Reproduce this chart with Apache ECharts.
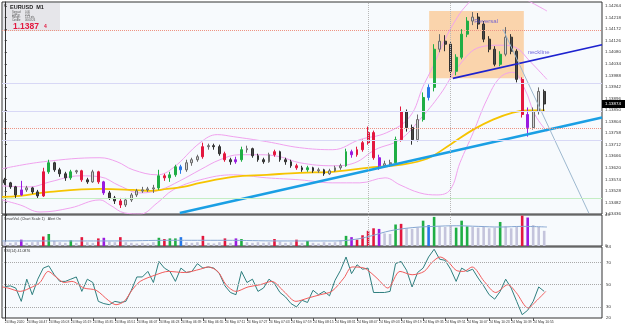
<!DOCTYPE html>
<html>
<head>
<meta charset="utf-8">
<title>EURUSD M1</title>
<script src="https://cdn.jsdelivr.net/npm/echarts@6.0.0/dist/echarts.min.js"></script>
<style>
  html, body { margin: 0; padding: 0; background: #fff; }
  #chart { width: 625px; height: 330px; }
</style>
</head>
<body>
<div id="chart"></div>
<script>
// EURUSD M1 bars
const opens = [
  1.13572, 1.13560, 1.13544, 1.13512, 1.13532, 1.13540, 1.13524, 1.13508, 1.13604, 1.13640,
  1.13612, 1.13596, 1.13580, 1.13604, 1.13608, 1.13572, 1.13564, 1.13604, 1.13564, 1.13520,
  1.13500, 1.13488, 1.13472, 1.13492, 1.13512, 1.13528, 1.13532, 1.13536, 1.13540, 1.13588,
  1.13580, 1.13592, 1.13624, 1.13612, 1.13640, 1.13652, 1.13664, 1.13704, 1.13708, 1.13704,
  1.13676, 1.13652, 1.13644, 1.13652, 1.13692, 1.13696, 1.13668, 1.13652, 1.13644, 1.13672,
  1.13684, 1.13652, 1.13644, 1.13628, 1.13620, 1.13612, 1.13620, 1.13608, 1.13612, 1.13596,
  1.13608, 1.13620, 1.13628, 1.13684, 1.13672, 1.13692, 1.13720, 1.13760, 1.13660, 1.13628,
  1.13636, 1.13640, 1.13732, 1.13844, 1.13780, 1.13732, 1.13812, 1.13900, 1.13940, 1.14092,
  1.14124, 1.14112, 1.14004, 1.14060, 1.14152, 1.14204, 1.14220, 1.14192, 1.14132, 1.14092,
  1.14032, 1.14072, 1.14140, 1.14084, 1.13972, 1.13832, 1.13780, 1.13844, 1.13924
];
const closes = [
  1.13560, 1.13544, 1.13512, 1.13532, 1.13540, 1.13524, 1.13508, 1.13604, 1.13640, 1.13612,
  1.13596, 1.13580, 1.13604, 1.13608, 1.13572, 1.13564, 1.13604, 1.13564, 1.13520, 1.13500,
  1.13488, 1.13472, 1.13492, 1.13512, 1.13528, 1.13532, 1.13536, 1.13540, 1.13588, 1.13580,
  1.13592, 1.13624, 1.13612, 1.13640, 1.13652, 1.13664, 1.13704, 1.13708, 1.13704, 1.13676,
  1.13652, 1.13644, 1.13652, 1.13692, 1.13696, 1.13668, 1.13652, 1.13644, 1.13672, 1.13684,
  1.13652, 1.13644, 1.13628, 1.13620, 1.13612, 1.13620, 1.13608, 1.13612, 1.13596, 1.13608,
  1.13620, 1.13628, 1.13684, 1.13672, 1.13692, 1.13720, 1.13760, 1.13660, 1.13628, 1.13636,
  1.13640, 1.13732, 1.13844, 1.13780, 1.13732, 1.13812, 1.13900, 1.13940, 1.14092, 1.14124,
  1.14112, 1.14004, 1.14060, 1.14152, 1.14204, 1.14220, 1.14192, 1.14132, 1.14092, 1.14032,
  1.14072, 1.14140, 1.14084, 1.13972, 1.13832, 1.13780, 1.13844, 1.13924, 1.13874
];
const lows = [
  1.13552, 1.13536, 1.13500, 1.13508, 1.13524, 1.13516, 1.13500, 1.13504, 1.13596, 1.13604,
  1.13584, 1.13568, 1.13572, 1.13596, 1.13564, 1.13556, 1.13560, 1.13556, 1.13512, 1.13492,
  1.13476, 1.13460, 1.13464, 1.13484, 1.13504, 1.13520, 1.13524, 1.13520, 1.13532, 1.13568,
  1.13564, 1.13584, 1.13596, 1.13604, 1.13628, 1.13644, 1.13656, 1.13692, 1.13692, 1.13668,
  1.13644, 1.13632, 1.13636, 1.13644, 1.13680, 1.13660, 1.13644, 1.13636, 1.13640, 1.13664,
  1.13644, 1.13632, 1.13620, 1.13612, 1.13604, 1.13604, 1.13600, 1.13600, 1.13588, 1.13592,
  1.13604, 1.13612, 1.13624, 1.13660, 1.13664, 1.13684, 1.13712, 1.13652, 1.13612, 1.13620,
  1.13624, 1.13632, 1.13724, 1.13764, 1.13712, 1.13724, 1.13804, 1.13888, 1.13924, 1.14080,
  1.14084, 1.13980, 1.13988, 1.14052, 1.14140, 1.14188, 1.14172, 1.14120, 1.14080, 1.14024,
  1.14024, 1.14064, 1.14072, 1.13960, 1.13820, 1.13744, 1.13772, 1.13832, 1.13844
];
const highs = [
  1.13580, 1.13564, 1.13548, 1.13568, 1.13548, 1.13544, 1.13532, 1.13620, 1.13652, 1.13644,
  1.13620, 1.13604, 1.13612, 1.13612, 1.13612, 1.13580, 1.13612, 1.13608, 1.13568, 1.13528,
  1.13508, 1.13500, 1.13500, 1.13520, 1.13536, 1.13544, 1.13544, 1.13552, 1.13612, 1.13596,
  1.13604, 1.13632, 1.13632, 1.13652, 1.13660, 1.13672, 1.13720, 1.13716, 1.13716, 1.13712,
  1.13684, 1.13660, 1.13664, 1.13704, 1.13708, 1.13700, 1.13676, 1.13660, 1.13680, 1.13692,
  1.13688, 1.13660, 1.13652, 1.13636, 1.13628, 1.13628, 1.13624, 1.13620, 1.13616, 1.13616,
  1.13628, 1.13636, 1.13696, 1.13692, 1.13704, 1.13732, 1.13784, 1.13768, 1.13672, 1.13648,
  1.13652, 1.13744, 1.13864, 1.13852, 1.13792, 1.13832, 1.13920, 1.13952, 1.14112, 1.14152,
  1.14148, 1.14120, 1.14072, 1.14172, 1.14220, 1.14240, 1.14236, 1.14204, 1.14144, 1.14104,
  1.14084, 1.14180, 1.14152, 1.14092, 1.13980, 1.13860, 1.13860, 1.13940, 1.13932
];
// Smart Volume bar class: n = normal, g / r / p / b = coloured bars
const barTypes = (
  'nnnpnnnrgn' + 'nngnrnnrpn' + 'nrnnnnnngr' + 'ggbnnnrnnn' + 'rnpgnnnnnr' +
  'nnnrngnnnn' + 'nngprrrrpn' + 'ngrnnngbgn' + 'nngggnnnnn' + 'gnnnrpnnn'
).split('');
const volumes = [
  7, 5, 6, 10, 5, 6, 7, 15, 19, 8,
  6, 5, 9, 5, 14, 6, 5, 12, 13, 7,
  6, 14, 6, 5, 4, 5, 4, 6, 13, 11,
  12, 12, 14, 6, 5, 6, 16, 5, 4, 6,
  12, 5, 12, 11, 6, 5, 6, 5, 6, 11,
  7, 5, 6, 10, 5, 8, 5, 4, 6, 5,
  6, 9, 16, 14, 10, 17, 24, 28, 27, 20,
  19, 34, 35, 28, 27, 29, 40, 33, 46, 31,
  30, 32, 29, 40, 31, 30, 29, 30, 28, 29,
  38, 31, 28, 30, 48, 45, 33, 30, 24
];
const volAverage = [[-0.5, 8], [10, 8], [20, 8], [30, 9], [40, 9], [50, 8], [60, 8], [64, 11], [67, 17],
  [70, 24], [74, 29], [78, 31], [82, 32], [86, 31], [90, 30], [94, 31], [98.5, 30]];
const rsiValues = [
  48.2, 49, 47, 35, 55, 41, 55, 65, 67, 59,
  53, 53, 55, 57, 44, 55, 52, 35, 33, 32,
  35, 34, 35, 45, 57, 57, 62, 52, 71, 65,
  62, 53, 65, 61, 62, 69, 65, 66, 65, 60,
  49, 43, 41, 62, 52, 55, 44, 47, 55, 51,
  43, 39, 33, 30, 36, 34, 45, 41, 44, 40,
  54, 63, 75, 60, 68, 64, 65, 43, 43, 43,
  44, 69, 71, 63, 48, 61, 65, 75, 82, 73,
  72, 64, 53, 65, 62, 64, 56, 49, 41, 37,
  44, 55, 47, 35, 23, 27, 35, 48, 44
];
const rsiSignal = [[-0.5, 48], [0.6, 47], [2.8, 44], [5, 48], [6.4, 52], [7.9, 62], [9.3, 57], [10.8, 52],
  [12.2, 53], [14.4, 47], [16.6, 45], [18.8, 36], [20.2, 32], [21.7, 35], [23.1, 45], [24.6, 53],
  [27.5, 59], [29.7, 62], [32.6, 61], [35.5, 64], [36.9, 66], [38.7, 62], [40.2, 50], [42, 44],
  [44.2, 48], [46.4, 50], [48.5, 53], [50.7, 44], [52.9, 35], [55.1, 38], [57.3, 41], [59.4, 44],
  [61.6, 56], [63.1, 66], [65.3, 65], [66.7, 60], [67.8, 55], [69.6, 47], [71.8, 62], [74, 59],
  [76.2, 62], [77.6, 70], [79.1, 75], [80.5, 71], [82, 63], [83.4, 62], [84.9, 66], [87.1, 53],
  [89.2, 43], [91.4, 50], [92.9, 43], [95.1, 29], [96.5, 35], [98.3, 44]];
const rsiLevels = [30, 50, 70];
const rsiLabels = [84, 70, 50, 30, 20];

// moving average and Bollinger bands, knots as [bar, price]
const maLine = [[-0.5, 1.13504], [2.8, 1.13508], [8.2, 1.13524], [17.3, 1.13536], [23.3, 1.13532],
  [26.4, 1.13528], [29.5, 1.13536], [32.4, 1.13544], [35.5, 1.13560], [41.5, 1.13584], [47.6, 1.13592],
  [53.6, 1.13600], [59.6, 1.13604], [65.8, 1.13620], [71.8, 1.13632], [76.7, 1.13656], [80.9, 1.13712],
  [85.1, 1.13772], [88.7, 1.13812], [92.3, 1.13840], [94.9, 1.13848], [98.1, 1.13848]];
const bbUpper = [[-0.5, 1.13616], [7, 1.13644], [17.3, 1.13660], [20.4, 1.13644], [23.3, 1.13612],
  [27.7, 1.13592], [30.6, 1.13620], [35.5, 1.13720], [38.6, 1.13752], [41.5, 1.13744], [47.6, 1.13724],
  [53.6, 1.13700], [59.6, 1.13692], [64.5, 1.13732], [69.4, 1.13760], [73.6, 1.13824], [76, 1.13944],
  [77.8, 1.14024], [80, 1.14132], [81.8, 1.14204], [83.6, 1.14260], [86.3, 1.14312], [90, 1.14324],
  [93.6, 1.14300], [97.2, 1.14260], [98.5, 1.14244]];
const bbMiddle = [[-0.5, 1.13548], [4.6, 1.13544], [8.2, 1.13564], [13.7, 1.13588], [17.3, 1.13584],
  [20.9, 1.13548], [24.6, 1.13520], [28.2, 1.13532], [31.8, 1.13568], [35.5, 1.13612], [39.1, 1.13652],
  [42.7, 1.13672], [46.4, 1.13672], [50, 1.13664], [53.6, 1.13640], [59.6, 1.13628], [63.6, 1.13640],
  [67.3, 1.13692], [71.8, 1.13732], [75.4, 1.13812], [79.1, 1.13912], [82.7, 1.14032], [86.3, 1.14100],
  [90, 1.14108], [92.7, 1.14100], [95.4, 1.14044], [98.5, 1.13972]];
const bbLower = [[-0.5, 1.13492], [2.8, 1.13472], [6.4, 1.13444], [11.9, 1.13460], [17.3, 1.13492],
  [19.1, 1.13472], [21.8, 1.13440], [24.6, 1.13436], [27.7, 1.13480], [30.6, 1.13532], [35.5, 1.13572],
  [41.5, 1.13592], [47.6, 1.13580], [53.6, 1.13572], [59.6, 1.13560], [64.5, 1.13560], [69.1, 1.13580],
  [71.8, 1.13552], [75.4, 1.13520], [78.5, 1.13512], [80.9, 1.13532], [82.7, 1.13640], [85.1, 1.13760],
  [87.6, 1.13892], [90, 1.13980], [92.3, 1.14000], [94.5, 1.13932], [96.3, 1.13832], [98.5, 1.13764]];

// drawn objects
const supportLine = [[31.8, 1.13440], [108.5, 1.13820]];
const necklineLine = [[81.4, 1.13976], [108.5, 1.14110]];
const fallLine = [[90.5, 1.14172], [106.1, 1.13440]];
const reversalBox = [[77.1, 1.14244], [94.3, 1.13976]];
const redLevels = [1.14168, 1.13776];
const lavenderLevels = [1.13956, 1.13844, 1.13728];
const greenLevels = [1.13500];
const vLines = [66, 81];
const notes = [{ name: 'Reversal', value: [85.3, 1.14204] }, { name: 'neckline', value: [95.0, 1.14080] }];

const timeLabels = ['24 May 2020', '24 May 04:47', '24 May 05:03', '24 May 05:19', '24 May 05:35',
  '24 May 05:51', '24 May 06:07', '24 May 06:23', '24 May 06:39', '24 May 06:55', '24 May 07:11',
  '24 May 07:27', '24 May 07:43', '24 May 07:59', '24 May 08:15', '24 May 08:31', '24 May 08:47',
  '24 May 09:03', '24 May 09:19', '24 May 09:35', '24 May 09:51', '24 May 10:07', '24 May 10:23',
  '24 May 10:39', '24 May 10:55'];
const slotCount = 109;   // bars plus the empty shift area on the right

const typeColors = { g: '#1fae44', r: '#e3173e', p: '#9a1be0', b: '#2577e8' };
const categories = Array.from({ length: slotCount }, (_, i) => String(i));

const candleData = opens.map((o, i) => {
  const item = { value: [o, closes[i], lows[i], highs[i]] };
  const c = typeColors[barTypes[i]];
  if (c) item.itemStyle = { color: c, color0: c, borderColor: c, borderColor0: c };
  return item;
});
const volumeData = volumes.map((v, i) => ({
  value: v,
  itemStyle: { color: typeColors[barTypes[i]] || '#c4c4dc' }
}));

const chart = echarts.init(document.getElementById('chart'), null, { renderer: 'canvas' });

const axisColor = '#333';
const gridBase = { left: 2, width: 600, show: true, backgroundColor: '#f7fafd', borderColor: '#333', borderWidth: 1 };
const hiddenCat = (g) => ({ type: 'category', gridIndex: g, data: categories, boundaryGap: true,
  axisLine: { show: false }, axisTick: { show: false }, axisLabel: { show: false }, splitLine: { show: false } });
const hiddenVal = (g) => ({ type: 'value', gridIndex: g, min: -0.5, max: slotCount - 0.5, show: false,
  splitLine: { show: false } });
const bandLine = (data) => ({ type: 'line', xAxisIndex: 1, yAxisIndex: 0, data, smooth: 0.4, symbol: 'none',
  lineStyle: { color: '#f0a2ee', width: 1 }, z: 2, silent: true });
const hLine = (v, color, type) => ({ yAxis: v, lineStyle: { color, width: 1, type } });

chart.setOption({
  animation: false,
  textStyle: { fontFamily: 'Liberation Sans, Arial, sans-serif' },
  grid: [
    Object.assign({ top: 2, height: 212 }, gridBase),
    Object.assign({ top: 215, height: 31 }, gridBase),
    Object.assign({ top: 247, height: 71 }, gridBase)
  ],
  xAxis: [
    hiddenCat(0), hiddenVal(0),
    hiddenCat(1), hiddenVal(1),
    {
      type: 'category', gridIndex: 2, data: categories, boundaryGap: true,
      axisLine: { show: false },
      axisTick: { show: true, alignWithLabel: true, length: 3, lineStyle: { color: '#555' },
        interval: (i) => i % 4 === 0 && i / 4 < timeLabels.length },
      axisLabel: { show: true, interval: 0, align: 'left', margin: 3, fontSize: 3.4, color: axisColor,
        formatter: (v, i) => (i % 4 === 0 ? (timeLabels[i / 4] || '') : '') },
      splitLine: { show: false }
    },
    hiddenVal(2)
  ],
  yAxis: [
    {
      type: 'value', gridIndex: 0, position: 'right', min: 1.13436, max: 1.14280, interval: 0.00046,
      axisLine: { show: true, lineStyle: { color: '#333' } },
      axisTick: { show: true, length: 2, lineStyle: { color: '#333' } },
      axisLabel: { fontSize: 4.4, color: axisColor, margin: 3, showMaxLabel: false, formatter: (v) => v.toFixed(5) },
      splitLine: { show: false }
    },
    {
      type: 'value', gridIndex: 1, position: 'right', min: 0, max: 49, interval: 49,
      axisLine: { show: true, lineStyle: { color: '#333' } },
      axisTick: { show: true, length: 2, lineStyle: { color: '#333' } },
      axisLabel: { fontSize: 4.4, color: axisColor, margin: 3 },
      splitLine: { show: false }
    },
    {
      type: 'value', gridIndex: 2, position: 'right', min: 20, max: 84, interval: 2,
      axisLine: { show: true, lineStyle: { color: '#333' } },
      axisTick: { show: false },
      axisLabel: { fontSize: 4.4, color: axisColor, margin: 4,
        formatter: (v) => (rsiLabels.includes(Math.round(v)) ? String(Math.round(v)) : '') },
      splitLine: { show: false }
    }
  ],
  series: [
    // reversal box + horizontal / vertical drawn lines
    {
      type: 'line', xAxisIndex: 1, yAxisIndex: 0, data: [reversalBox[0]], symbol: 'none',
      lineStyle: { opacity: 0 }, z: 1, silent: true,
      markArea: { silent: true, itemStyle: { color: '#fad4ac' }, data: [[{ coord: reversalBox[0] }, { coord: reversalBox[1] }]] },
      markLine: {
        silent: true, symbol: ['none', 'none'], label: { show: false }, precision: 6,
        data: [
          ...redLevels.map((v) => hLine(v, '#ee9382', 'dotted')),
          ...lavenderLevels.map((v) => hLine(v, '#d8d8f6', 'solid')),
          ...greenLevels.map((v) => hLine(v, '#c4eec4', 'solid')),
          ...vLines.map((x) => ({ xAxis: x, lineStyle: { color: '#b8b8b8', width: 1, type: 'dotted' } }))
        ]
      }
    },
    bandLine(bbUpper), bandLine(bbMiddle), bandLine(bbLower),
    {
      type: 'line', xAxisIndex: 1, yAxisIndex: 0, data: maLine, smooth: 0.4, symbol: 'none',
      lineStyle: { color: '#f6c400', width: 1.8 }, z: 2, silent: true
    },
    {
      type: 'candlestick', xAxisIndex: 0, yAxisIndex: 0, data: candleData, barWidth: 2.4, z: 3,
      itemStyle: { color: '#d4d4d4', color0: '#4a4a4a', borderColor: '#6a6a6a', borderColor0: '#303030', borderWidth: 1 }
    },
    {
      type: 'line', xAxisIndex: 1, yAxisIndex: 0, data: supportLine, symbol: 'none',
      lineStyle: { color: '#1a9fe4', width: 2.5 }, z: 4, silent: true
    },
    {
      type: 'line', xAxisIndex: 1, yAxisIndex: 0, data: necklineLine, symbol: 'none',
      lineStyle: { color: '#1d22cf', width: 1.6 }, z: 4, silent: true
    },
    {
      type: 'line', xAxisIndex: 1, yAxisIndex: 0, data: fallLine, symbol: 'none',
      lineStyle: { color: '#9db8cf', width: 1 }, z: 4, silent: true
    },
    {
      type: 'scatter', xAxisIndex: 1, yAxisIndex: 0, data: notes, symbolSize: 0, z: 5, silent: true,
      label: { show: true, position: 'right', distance: 0, formatter: '{b}', fontSize: 6, color: '#5548d8' }
    },
    // volume panel
    {
      type: 'bar', xAxisIndex: 2, yAxisIndex: 1, data: volumeData, barWidth: 2.6, silent: true,
      markLine: {
        silent: true, symbol: ['none', 'none'], label: { show: false },
        data: vLines.map((x) => ({ xAxis: x, lineStyle: { color: '#b8b8b8', width: 1, type: 'dotted' } }))
      }
    },
    {
      type: 'line', xAxisIndex: 3, yAxisIndex: 1, data: volAverage, smooth: 0.4, symbol: 'none',
      lineStyle: { color: '#86a6d2', width: 1 }, silent: true
    },
    // RSI panel
    {
      type: 'line', xAxisIndex: 4, yAxisIndex: 2, data: rsiValues, symbol: 'none',
      lineStyle: { color: '#2f7f7f', width: 1 }, silent: true,
      markLine: {
        silent: true, symbol: ['none', 'none'], label: { show: false },
        data: rsiLevels.map((v) => ({ yAxis: v, lineStyle: { color: '#a9a9a9', width: 1, type: 'dotted' } }))
      }
    },
    {
      type: 'line', xAxisIndex: 5, yAxisIndex: 2, data: rsiSignal, smooth: 0.3, symbol: 'none',
      lineStyle: { color: '#f25c5c', width: 1 }, silent: true
    }
  ]
});

// overlay texts: info box, panel titles, current price tag
const lastClose = closes[closes.length - 1];
const tagY = chart.convertToPixel({ yAxisIndex: 0 }, lastClose);
const small = (x, y, text, size, fill, weight) => ({
  type: 'text', left: x, top: y, silent: true,
  style: { text, fontSize: size, fill, fontWeight: weight || 'normal', fontFamily: 'Liberation Sans, Arial, sans-serif' }
});
const infoRows = [['Spread:', '0.00'], ['LotPip:', '0.10'], ['Range:', '14.3 pts'], ['Candle:', '00:00:26']];

chart.setOption({
  graphic: [
    { type: 'rect', left: 3, top: 3, shape: { width: 57, height: 28 }, style: { fill: '#e6e6ea' }, silent: true },
    small(4, 3, '\u25BE', 5, '#333'),
    small(10, 4, 'EURUSD  M1', 5.5, '#222', 'bold'),
    ...infoRows.map((r, k) => small(12, 11 + k * 2.6, r[0], 2.6, '#555')),
    ...infoRows.map((r, k) => small(25, 11 + k * 2.6, r[1], 2.6, '#555')),
    small(13, 22, lastClose.toFixed(5).slice(0, 6), 8.5, '#e3173e', 'bold'),
    small(44, 24, lastClose.toFixed(5).slice(6), 5, '#e3173e', 'bold'),
    small(4, 217, 'SmartVol. (Chart Scale 1)   Alert On', 3.6, '#333'),
    small(4, 249, 'RSI(14) 41.0876', 3.6, '#333'),
    { type: 'rect', left: 602, top: tagY - 4, shape: { width: 23, height: 8 }, style: { fill: '#000' }, silent: true },
    small(605, tagY - 2.5, lastClose.toFixed(5), 4.4, '#fff')
  ]
});
</script>
</body>
</html>
